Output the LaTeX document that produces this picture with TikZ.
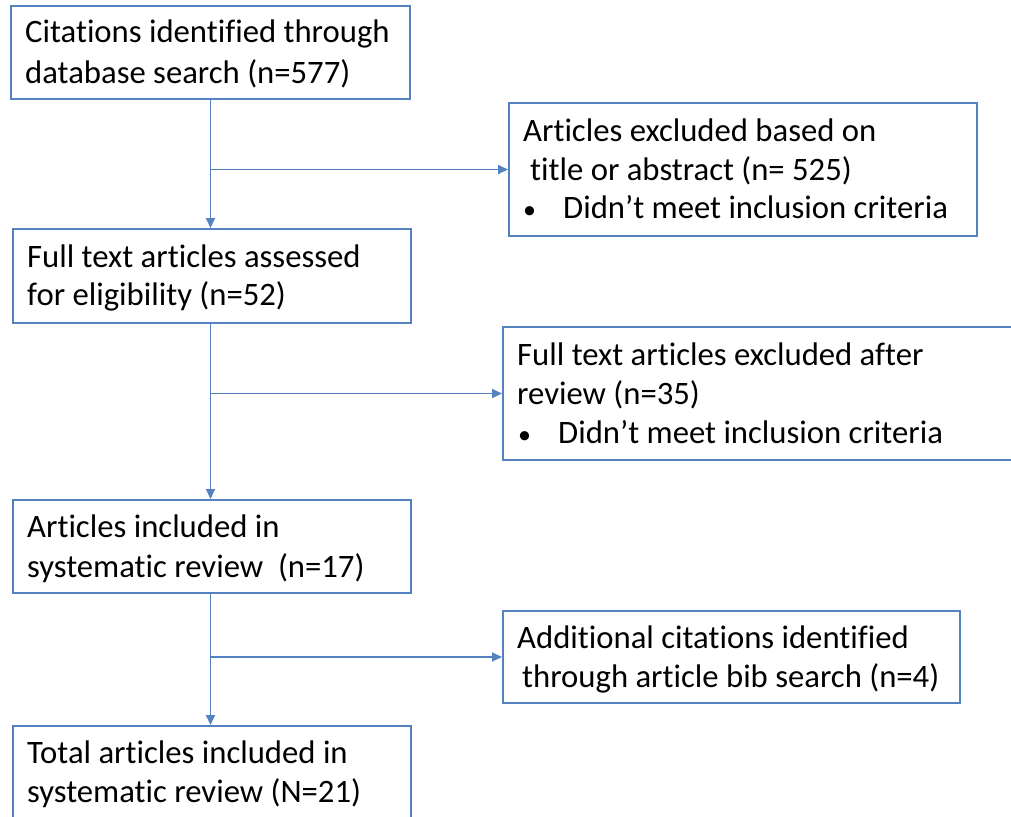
\documentclass[tikz,border=0pt]{standalone}
\usepackage{fontspec}
\setmainfont{Carlito}[Ligatures={NoCommon}]
\usetikzlibrary{arrows.meta}
\definecolor{bc}{RGB}{84,130,192}
\begin{document}
\begin{tikzpicture}[x=1pt,y=-1pt,
  box/.style={draw=bc, line width=2pt, inner sep=0pt, fill=none},
  txt/.style={font=\fontsize{32.7}{39}\selectfont, inner sep=0pt, anchor=base west},
  conn/.style={draw=bc, line width=1.8pt, -{Triangle[length=10pt,width=9pt]}}]
\useasboundingbox (0,0) rectangle (1011,816);
\clip (0,0) rectangle (1011,816);
% boxes
\node[box, minimum width=399pt, minimum height=93pt] (b1) at (210.5,52.5) {};
\node[box, minimum width=468pt, minimum height=133pt] (r1) at (743,169.5) {};
\node[box, minimum width=398pt, minimum height=94pt] (b2) at (211.5,276) {};
\node[box, minimum width=520pt, minimum height=133pt] (r2) at (763,393.5) {};
\node[box, minimum width=398pt, minimum height=93pt] (b3) at (211.5,546.5) {};
\node[box, minimum width=457pt, minimum height=92pt] (r3) at (731.5,657) {};
\node[box, minimum width=398pt, minimum height=93pt] (b4) at (211.5,772.5) {};
% texts
\node[txt] (t1a) at (25,43) {Citations identified through};
\node[txt] (t1b) at (25,83) {database search (n=577)};
\node[txt] (u1a) at (523,141) {Articles excluded based on};
\node[txt] (u1b) at (530,180) {title or abstract (n= 525)};
\node[txt] (u1c) at (523,218) {\fontsize{26}{39}\selectfont •};
\node[txt] (u1d) at (563,218) {Didn’t meet inclusion criteria};
\node[txt] (t2a) at (27,267) {Full text articles assessed};
\node[txt] (t2b) at (27,305) {for eligibility (n=52)};
\node[txt] (u2a) at (517,365) {Full text articles excluded after};
\node[txt] (u2b) at (517,404) {review (n=35)};
\node[txt] (u2c) at (518,443) {\fontsize{26}{39}\selectfont •};
\node[txt] (u2d) at (558,443) {Didn’t meet inclusion criteria};
\node[txt] (t3a) at (27,537) {Articles included in};
\node[txt] (t3b) at (27,577) {systematic review~~(n=17)};
\node[txt] (u3a) at (517,648) {Additional citations identified};
\node[txt] (u3b) at (522,687) {through article bib search (n=4)};
\node[txt] (t4a) at (27,763) {Total articles included in};
\node[txt] (t4b) at (27,802) {systematic review (N=21)};
% connectors
\draw[conn] (b1.south) -- (b1.south |- b2.north);
\draw[conn] (b1.south |- r1.west) -- (r1.west);
\draw[conn] (b1.south |- b2.south) -- (b1.south |- b3.north);
\draw[conn] (b1.south |- r2.west) -- (r2.west);
\draw[conn] (b1.south |- b3.south) -- (b1.south |- b4.north);
\draw[conn] (b1.south |- r3.west) -- (r3.west);
\end{tikzpicture}
\end{document}
